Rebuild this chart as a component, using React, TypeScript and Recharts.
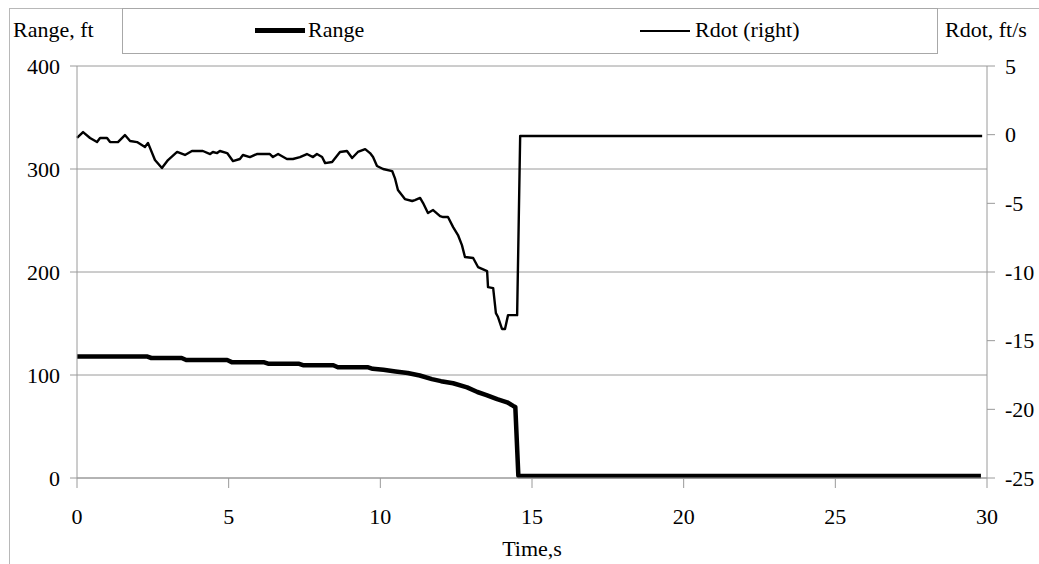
import React from "react"
import { LineChart, Line, XAxis, YAxis, CartesianGrid } from "recharts"

// Range, ft vs time, s
const rangeTime = [
  0, 2.3, 2.45, 3.45, 3.6, 4.95, 5.1, 6.15, 6.3, 7.3, 7.45, 8.45, 8.6, 9.6, 9.75, 10.1, 10.5, 10.9, 11.3,
  11.7, 12.0, 12.4, 12.86, 13.2, 13.5, 13.85, 14.18, 14.38, 14.45, 14.55, 20, 25, 29.8,
]
const rangeValues = [
  118, 118, 116.5, 116.5, 114.5, 114.5, 112.5, 112.5, 111, 111, 109.5, 109.5, 107.5, 107.5, 106, 105, 103.5,
  102, 99.5, 96, 94, 92, 88, 83.5, 80.5, 76.5, 73.5, 70, 69, 2, 2, 2, 2,
]

// Rdot, ft/s vs time, s
const rdotTime = [
  0, 0.2, 0.43, 0.66, 0.76, 0.99, 1.09, 1.35, 1.58, 1.75, 1.98, 2.24, 2.34, 2.57, 2.8, 3.0, 3.3, 3.56, 3.79,
  4.15, 4.39, 4.48, 4.62, 4.71, 4.95, 5.14, 5.37, 5.47, 5.7, 5.93, 6.36, 6.46, 6.63, 6.92, 7.12, 7.35, 7.58,
  7.78, 7.91, 8.08, 8.18, 8.41, 8.67, 8.9, 9.07, 9.26, 9.5, 9.66, 9.76, 9.89, 10.09, 10.39, 10.48, 10.58,
  10.81, 11.05, 11.14, 11.31, 11.41, 11.57, 11.74, 11.97, 12.07, 12.23, 12.4, 12.56, 12.69, 12.79, 13.06,
  13.22, 13.52, 13.55, 13.72, 13.81, 13.88, 14.01, 14.11, 14.21, 14.51, 14.61, 29.84,
]
const rdotValues = [
  -0.24, 0.19, -0.24, -0.54, -0.24, -0.24, -0.54, -0.54, -0.03, -0.46, -0.54, -0.9, -0.6, -1.85, -2.43,
  -1.85, -1.26, -1.48, -1.19, -1.19, -1.41, -1.26, -1.34, -1.19, -1.34, -1.92, -1.77, -1.48, -1.63, -1.41,
  -1.41, -1.63, -1.41, -1.77, -1.77, -1.63, -1.41, -1.63, -1.41, -1.63, -2.07, -1.99, -1.26, -1.19, -1.7,
  -1.26, -1.05, -1.34, -1.63, -2.28, -2.5, -2.65, -3.16, -4.03, -4.69, -4.83, -4.76, -4.61, -4.98, -5.71,
  -5.49, -5.93, -6.0, -6.0, -6.73, -7.31, -8.04, -8.91, -8.98, -9.64, -9.93, -11.1, -11.17, -12.99, -13.28,
  -14.15, -14.15, -13.14, -13.14, -0.1, -0.1,
]

const timeTicks = [0, 5, 10, 15, 20, 25, 30]
const rangeTicks = [0, 100, 200, 300, 400]
const rdotTicks = [-25, -20, -15, -10, -5, 0, 5]

const rangeData = rangeTime.map((t, i) => ({ t, range: rangeValues[i] }))
const rdotData = rdotTime.map((t, i) => ({ t, rdot: rdotValues[i] }))

const font = "Liberation Serif, Times New Roman, Times, DejaVu Serif, serif"
const gray = "#9a9a9a"
const tickStyle = { fill: "#000", fontSize: 22, fontFamily: font }
const textStyle: React.CSSProperties = {
  position: "absolute",
  top: 17,
  fontSize: 22,
  lineHeight: "26px",
  fontFamily: font,
  whiteSpace: "nowrap",
}

export default function App() {
  return (
    <div
      style={{
        position: "absolute",
        left: 0,
        top: 0,
        width: 1039,
        height: 564,
        background: "#fff",
        fontFamily: font,
        overflow: "hidden",
      }}
    >
      {/* outer frame */}
      <div
        style={{
          position: "absolute",
          left: 9,
          top: 8,
          width: 1040,
          height: 570,
          borderLeft: "1px solid #b8b8b8",
          borderTop: "1px solid #b8b8b8",
        }}
      />

      {/* legend box */}
      <div
        style={{
          position: "absolute",
          left: 122,
          top: 8,
          width: 814,
          height: 44,
          border: "1px solid #a8a8a8",
        }}
      />
      <div style={{ position: "absolute", left: 255, top: 28, width: 50, height: 5, background: "#000" }} />
      <div style={{ ...textStyle, left: 308 }}>Range</div>
      <div style={{ position: "absolute", left: 640, top: 30, width: 50, height: 2, background: "#000" }} />
      <div style={{ ...textStyle, left: 695 }}>Rdot (right)</div>

      {/* axis titles */}
      <div style={{ ...textStyle, left: 13 }}>Range, ft</div>
      <div style={{ ...textStyle, left: 945 }}>Rdot, ft/s</div>

      <LineChart
        width={1039}
        height={564}
        margin={{ top: 66, right: 0, bottom: 0, left: 0 }}
        style={{ position: "absolute", left: 0, top: 0, fontFamily: font }}
      >
        <CartesianGrid yAxisId="left" horizontal vertical={false} stroke={gray} />
        <XAxis
          dataKey="t"
          type="number"
          domain={[0, 30]}
          ticks={timeTicks}
          height={86}
          tickSize={10}
          tickMargin={20}
          stroke={gray}
          tick={tickStyle}
          allowDuplicatedCategory={false}
          label={{ value: "Time,s", position: "insideBottom", offset: 8, fill: "#000", fontSize: 22, fontFamily: font }}
        />
        <YAxis
          yAxisId="left"
          orientation="left"
          domain={[0, 400]}
          ticks={rangeTicks}
          width={77}
          tickSize={7}
          tickMargin={10}
          stroke={gray}
          tick={tickStyle}
        />
        <YAxis
          yAxisId="right"
          orientation="right"
          domain={[-25, 5]}
          ticks={rdotTicks}
          width={52}
          tickSize={8}
          tickMargin={10}
          stroke={gray}
          tick={tickStyle}
        />
        <Line
          yAxisId="left"
          data={rangeData}
          dataKey="range"
          type="linear"
          stroke="#000"
          strokeWidth={4.5}
          strokeLinejoin="round"
          dot={false}
          isAnimationActive={false}
        />
        <Line
          yAxisId="right"
          data={rdotData}
          dataKey="rdot"
          type="linear"
          stroke="#000"
          strokeWidth={2.4}
          strokeLinejoin="round"
          dot={false}
          isAnimationActive={false}
        />
      </LineChart>
    </div>
  )
}
